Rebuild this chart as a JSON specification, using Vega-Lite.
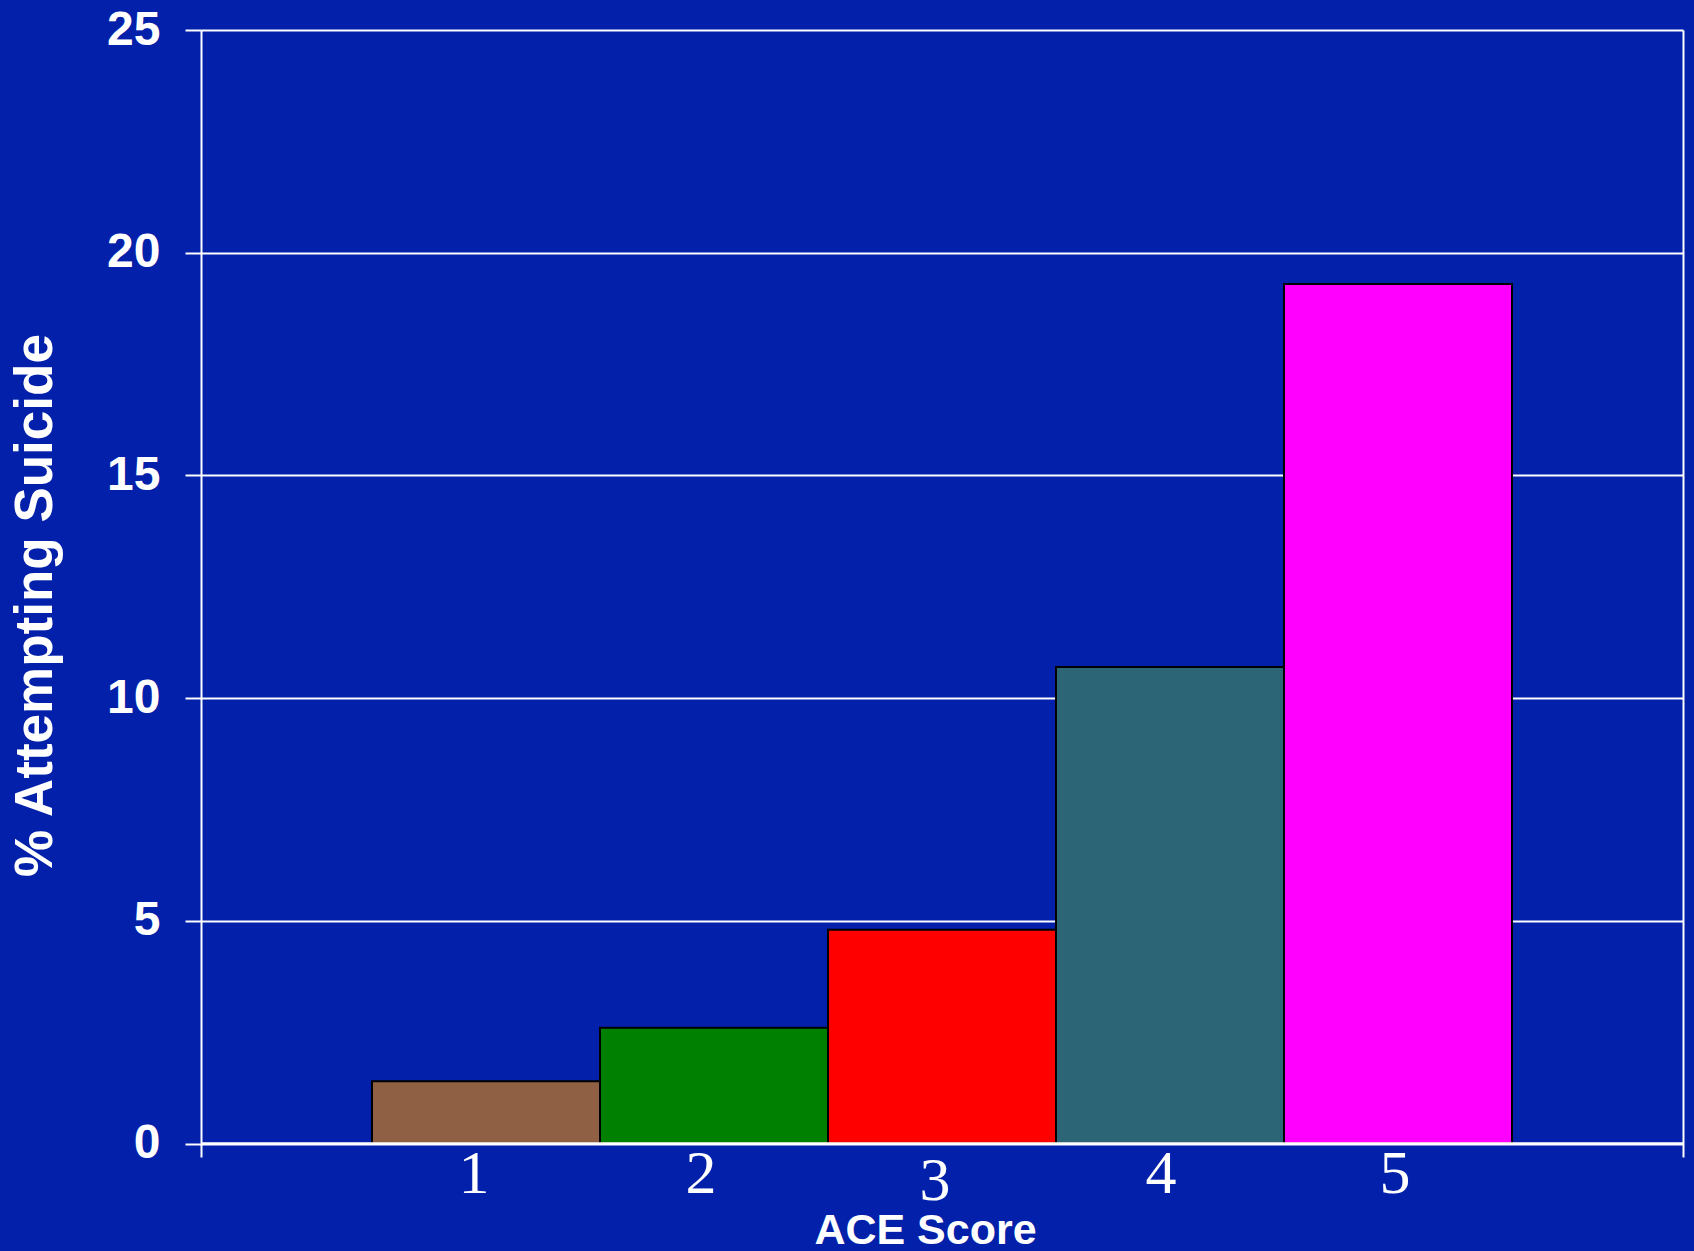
{
  "$schema": "https://vega.github.io/schema/vega-lite/v6.json",
  "width": 1482,
  "height": 1127,
  "autosize": "none",
  "padding": {"left": 201, "top": 30, "right": 11, "bottom": 94},
  "background": "#0220AA",
  "config": {"view": {"stroke": null}},
  "data": {
    "values": [
      {"score": "1", "pct": 1.4},
      {"score": "2", "pct": 2.6},
      {"score": "3", "pct": 4.8},
      {"score": "4", "pct": 10.7},
      {"score": "5", "pct": 19.3}
    ]
  },
  "layer": [
    {
      "mark": {"type": "bar", "stroke": "#000000", "strokeWidth": 2},
      "encoding": {
        "x": {
          "field": "score",
          "type": "ordinal",
          "scale": {"paddingInner": 0, "paddingOuter": 0.75},
          "axis": {
            "orient": "bottom",
            "domain": false,
            "ticks": false,
            "tickSize": 0,
            "grid": false,
            "labelAngle": 0,
            "labelFont": "Liberation Serif",
            "labelFontSize": 62,
            "labelColor": "#FFFFFF",
            "labelBaseline": "alphabetic",
            "labelOffset": {"expr": "datum.value == '1' ? -12 : datum.value == '2' ? -13 : datum.value == '3' ? -7 : datum.value == '4' ? -9 : -3"},
            "labelPadding": {"expr": "datum.value == '3' ? 42 : 35"},
            "title": "ACE Score",
            "titleFont": "Liberation Sans",
            "titleFontWeight": "bold",
            "titleFontSize": 43,
            "titleColor": "#FFFFFF",
            "titleBaseline": "alphabetic",
            "titleX": 724,
            "titleY": 86
          }
        },
        "y": {
          "field": "pct",
          "type": "quantitative",
          "scale": {"domain": [-0.3, 25], "nice": false},
          "axis": {
            "orient": "left",
            "values": [0, 5, 10, 15, 20, 25],
            "domainColor": "#FFFFFF",
            "domainWidth": 2,
            "ticks": true,
            "tickColor": "#FFFFFF",
            "tickWidth": 2,
            "tickSize": 16,
            "grid": true,
            "gridColor": "#FFFFFF",
            "gridWidth": 2,
            "gridOpacity": 1,
            "labelFont": "Liberation Sans",
            "labelFontWeight": "bold",
            "labelFontSize": 48,
            "labelColor": "#FFFFFF",
            "labelPadding": 25,
            "title": "% Attempting Suicide",
            "titleFont": "Liberation Sans",
            "titleFontWeight": "bold",
            "titleFontSize": 53,
            "titleColor": "#FFFFFF",
            "titleBaseline": "alphabetic",
            "titleAngle": -90,
            "titleX": -150,
            "titleY": 575
          }
        },
        "y2": {"datum": 0},
        "color": {
          "field": "score",
          "type": "nominal",
          "scale": {"range": ["#8F6044", "#008000", "#FF0000", "#2C6676", "#FF00FF"]},
          "legend": null
        }
      }
    },
    {
      "mark": {"type": "rule", "color": "#FFFFFF", "strokeWidth": 2},
      "encoding": {"y": {"datum": 0, "axis": null}}
    },
    {
      "mark": {"type": "point", "opacity": 0},
      "encoding": {
        "x": {"field": "score", "type": "ordinal"},
        "y": {
          "field": "pct",
          "type": "quantitative",
          "axis": {
            "orient": "right",
            "values": [],
            "domainColor": "#FFFFFF",
            "domainWidth": 2,
            "ticks": false,
            "labels": false,
            "grid": false,
            "title": null
          }
        }
      }
    }
  ],
  "resolve": {"axis": {"y": "independent"}}
}
